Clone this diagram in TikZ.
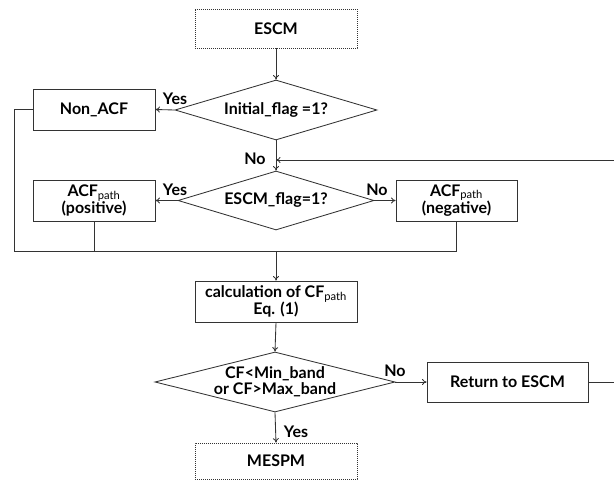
\documentclass[tikz,border=0pt]{standalone}
\usepackage{fontspec}
\setmainfont{Lato}
\usetikzlibrary{shapes.geometric,arrows.meta}
\begin{document}
\begin{tikzpicture}[x=1pt,y=-1pt,
  font=\fontsize{16}{17}\selectfont\bfseries,
  line width=0.85pt,draw=black!80,
  arr/.style={-{To[length=4.5pt,width=6pt]}},
  box/.style={draw,rectangle,inner sep=0pt,align=center},
  dbox/.style={box,line width=0.75pt,dash pattern=on 1.2pt off 0.8pt},
  dia/.style={draw,diamond,inner sep=0pt},
  lbl/.style={inner sep=0pt}]
\useasboundingbox (0,0) rectangle (614,481);
\node[dbox,minimum width=162pt,minimum height=39pt] (escm) at (276,28.5) {ESCM};
\node[dia,minimum width=202pt,minimum height=60pt,label={center:Initial\_flag =1?}] (d1) at (276,110) {};
\node[box,minimum width=122pt,minimum height=41pt] (nonacf) at (94,109.5) {Non\_ACF};
\node[dia,minimum width=196pt,minimum height=59pt,label={center:ESCM\_flag=1?}] (d2) at (276,200.5) {};
\node[box,minimum width=122pt,minimum height=41pt] (pos) at (94,200.5) {ACF{\mdseries\textsubscript{path}}\\[-1pt](positive)};
\node[box,minimum width=121pt,minimum height=41pt] (neg) at (456.5,200.5) {ACF{\mdseries\textsubscript{path}}\\[-1pt](negative)};
\node[box,minimum width=162pt,minimum height=41pt] (calc) at (276,301.5) {calculation of CF{\mdseries\textsubscript{path}}\\[-1pt]Eq. (1)};
\node[dia,minimum width=240pt,minimum height=60pt,label={[align=center]center:CF<Min\_band\\[-1pt]or CF>Max\_band}] (d3) at (275,382) {};
\node[box,minimum width=161pt,minimum height=40pt] (ret) at (507.5,382) {Return to ESCM};
\node[dbox,minimum width=162pt,minimum height=36pt] (mespm) at (276,461) {MESPM};
% coordinates
\coordinate (j1) at (276,160);
\coordinate (bl) at (14,251);
\coordinate (bm) at (276,251);
\coordinate (rr) at (618,382);
\coordinate (rt) at (618,160);
% connectors
\draw[arr] (escm) -- (d1.north);
\draw[arr] (d1.west) -- (nonacf.east);
\draw (d1.south) -- (j1);
\draw[arr] (j1) -- (d2.north);
\draw[arr] (d2.west) -- (pos.east);
\draw[arr] (d2.east) -- (neg.east -| neg.west);
\draw (nonacf.west) -| (bl);
\draw (pos.south) -- (pos.south |- bl);
\draw (neg.south) |- (bl);
\draw[arr] (bm) -- (calc.north);
\draw[arr] (calc.south) -- (d3.north);
\draw[arr] (d3.east) -- (ret.west);
\draw[arr] (d3.south) -- (mespm.north);
\draw (ret.east) -- (rr) -- (rt);
\draw[arr] (rt) -- (j1);
% labels
\node[lbl] (y1) at (175,99) {Yes};
\node[lbl] (y2) at (175,190) {Yes};
\node[lbl] (n2) at (377,190) {No};
\node[lbl] (n1) at (255,159) {No};
\node[lbl] (n3) at (395,371) {No};
\node[lbl] (y3) at (296,432) {Yes};
\end{tikzpicture}
\end{document}
